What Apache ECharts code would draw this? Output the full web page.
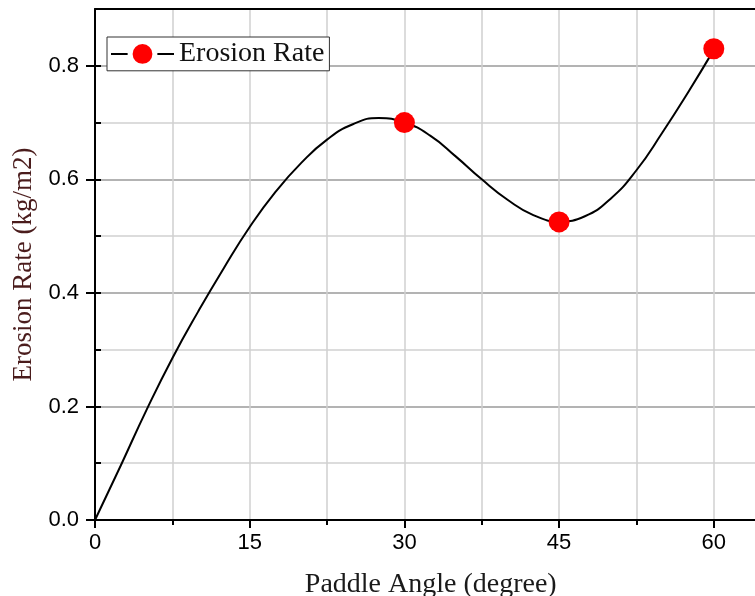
<!DOCTYPE html>
<html>
<head>
<meta charset="utf-8">
<title>Erosion Rate vs Paddle Angle</title>
<script src="https://cdn.jsdelivr.net/npm/echarts@6/dist/echarts.min.js"></script>
<style>
  html, body { margin: 0; padding: 0; background: #fff; }
  #chart { width: 755px; height: 596px; }
</style>
</head>
<body>
<div id="chart"></div>
<script>
// measured points (red markers)
const angles = [30, 45, 60]
const erosion = [0.70, 0.525, 0.83]

// fitted curve
const curveX = [0, 2.5, 5, 7.5, 10, 12.5, 15, 17.5, 20, 22.5, 25, 27.5, 30,
  32.5, 35, 37.5, 40, 42.5, 45, 47.5, 50, 52.5, 55, 57.5, 60]
const curveY = [0, 0.096, 0.194, 0.285, 0.367, 0.444, 0.516, 0.578, 0.629, 0.670, 0.697, 0.708, 0.70,
  0.677, 0.640, 0.600, 0.564, 0.537, 0.526, 0.535, 0.566, 0.616, 0.682, 0.753, 0.828]

const xTicks = [0, 15, 30, 45, 60]
const yTicks = [0, 0.2, 0.4, 0.6, 0.8]

const chart = echarts.init(document.getElementById('chart'))

const sans = 'Liberation Sans, Arial, sans-serif'
const serif = 'Liberation Serif, Times New Roman, serif'

const option = {
  animation: false,
  backgroundColor: '#fff',
  grid: { left: 95, top: 9, bottom: 76, right: -113.5, outerBoundsMode: 'none', containLabel: false },
  legend: {
    data: ['Erosion Rate'],
    left: 107,
    top: 37,
    padding: [2, 5, 2, 3],
    itemWidth: 63,
    itemHeight: 31,
    itemGap: 0,
    borderColor: '#333',
    borderWidth: 1,
    backgroundColor: '#fff',
    itemStyle: { color: '#ff0000', borderColor: '#fff', borderWidth: 5 },
    lineStyle: { color: '#000', width: 2 },
    textStyle: { fontFamily: serif, fontSize: 28, color: '#111' }
  },
  xAxis: [
    {
      type: 'value',
      min: 0,
      max: 75,
      interval: 15,
      name: 'Paddle Angle (degree)',
      nameLocation: 'middle',
      nameGap: 51,
      // axis runs past the right edge, so pull the title back to the visible centre
      nameTextStyle: { fontFamily: serif, fontSize: 28, color: '#1a1a1a', padding: [0, 102, 0, 0] },
      axisLine: { show: true, onZero: false, lineStyle: { color: '#000', width: 2 } },
      axisTick: { show: true, length: 8, lineStyle: { color: '#000', width: 2 } },
      minorTick: { show: true, splitNumber: 2, length: 5, lineStyle: { color: '#000', width: 2 } },
      axisLabel: {
        margin: 12,
        fontFamily: sans,
        fontSize: 22,
        color: '#000',
        formatter: v => (xTicks.includes(v) ? String(v) : '')
      },
      splitLine: { show: true, lineStyle: { color: '#d0d0d0', width: 1.5 } },
      minorSplitLine: { show: true, lineStyle: { color: '#d0d0d0', width: 1.5 } }
    },
    {
      type: 'value',
      position: 'top',
      min: 0,
      max: 75,
      axisLine: { show: true, onZero: false, lineStyle: { color: '#000', width: 2 } },
      axisTick: { show: false },
      axisLabel: { show: false },
      splitLine: { show: false }
    }
  ],
  yAxis: [
    {
      type: 'value',
      min: 0,
      max: 0.9,
      interval: 0.2,
      name: 'Erosion Rate (kg/m2)',
      nameLocation: 'middle',
      nameGap: 54,
      nameTextStyle: { fontFamily: serif, fontSize: 27, color: '#4a1c1c' },
      axisLine: { show: true, onZero: false, lineStyle: { color: '#000', width: 2 } },
      axisTick: { show: true, length: 9, lineStyle: { color: '#000', width: 2 } },
      axisLabel: {
        margin: 16,
        fontFamily: sans,
        fontSize: 22,
        color: '#000',
        showMaxLabel: false,
        formatter: v => (yTicks.some(t => Math.abs(t - v) < 1e-6) ? v.toFixed(1) : '')
      },
      splitLine: { show: false }
    },
    {
      // minor ticks and alternating grid lines every 0.1
      type: 'value',
      min: 0,
      max: 0.9,
      interval: 0.1,
      axisLine: { show: false },
      axisTick: { show: true, length: 6, lineStyle: { color: '#000', width: 2 } },
      axisLabel: { show: false },
      splitLine: { show: true, lineStyle: { color: ['#9a9a9a', '#d0d0d0'], width: 1.5 } }
    }
  ],
  series: [
    {
      name: 'Erosion Rate',
      type: 'line',
      data: curveX.map((x, i) => [x, curveY[i]]),
      smooth: 0.5,
      symbol: 'circle',
      symbolSize: 20,
      showSymbol: false,
      itemStyle: { color: '#ff0000' },
      lineStyle: { color: '#000', width: 2 },
      z: 3
    },
    {
      name: 'points',
      type: 'scatter',
      data: angles.map((a, i) => [a, erosion[i]]),
      symbol: 'circle',
      symbolSize: 21,
      itemStyle: { color: '#ff0000', opacity: 1 },
      z: 4
    }
  ]
}

chart.setOption(option)
</script>
</body>
</html>
